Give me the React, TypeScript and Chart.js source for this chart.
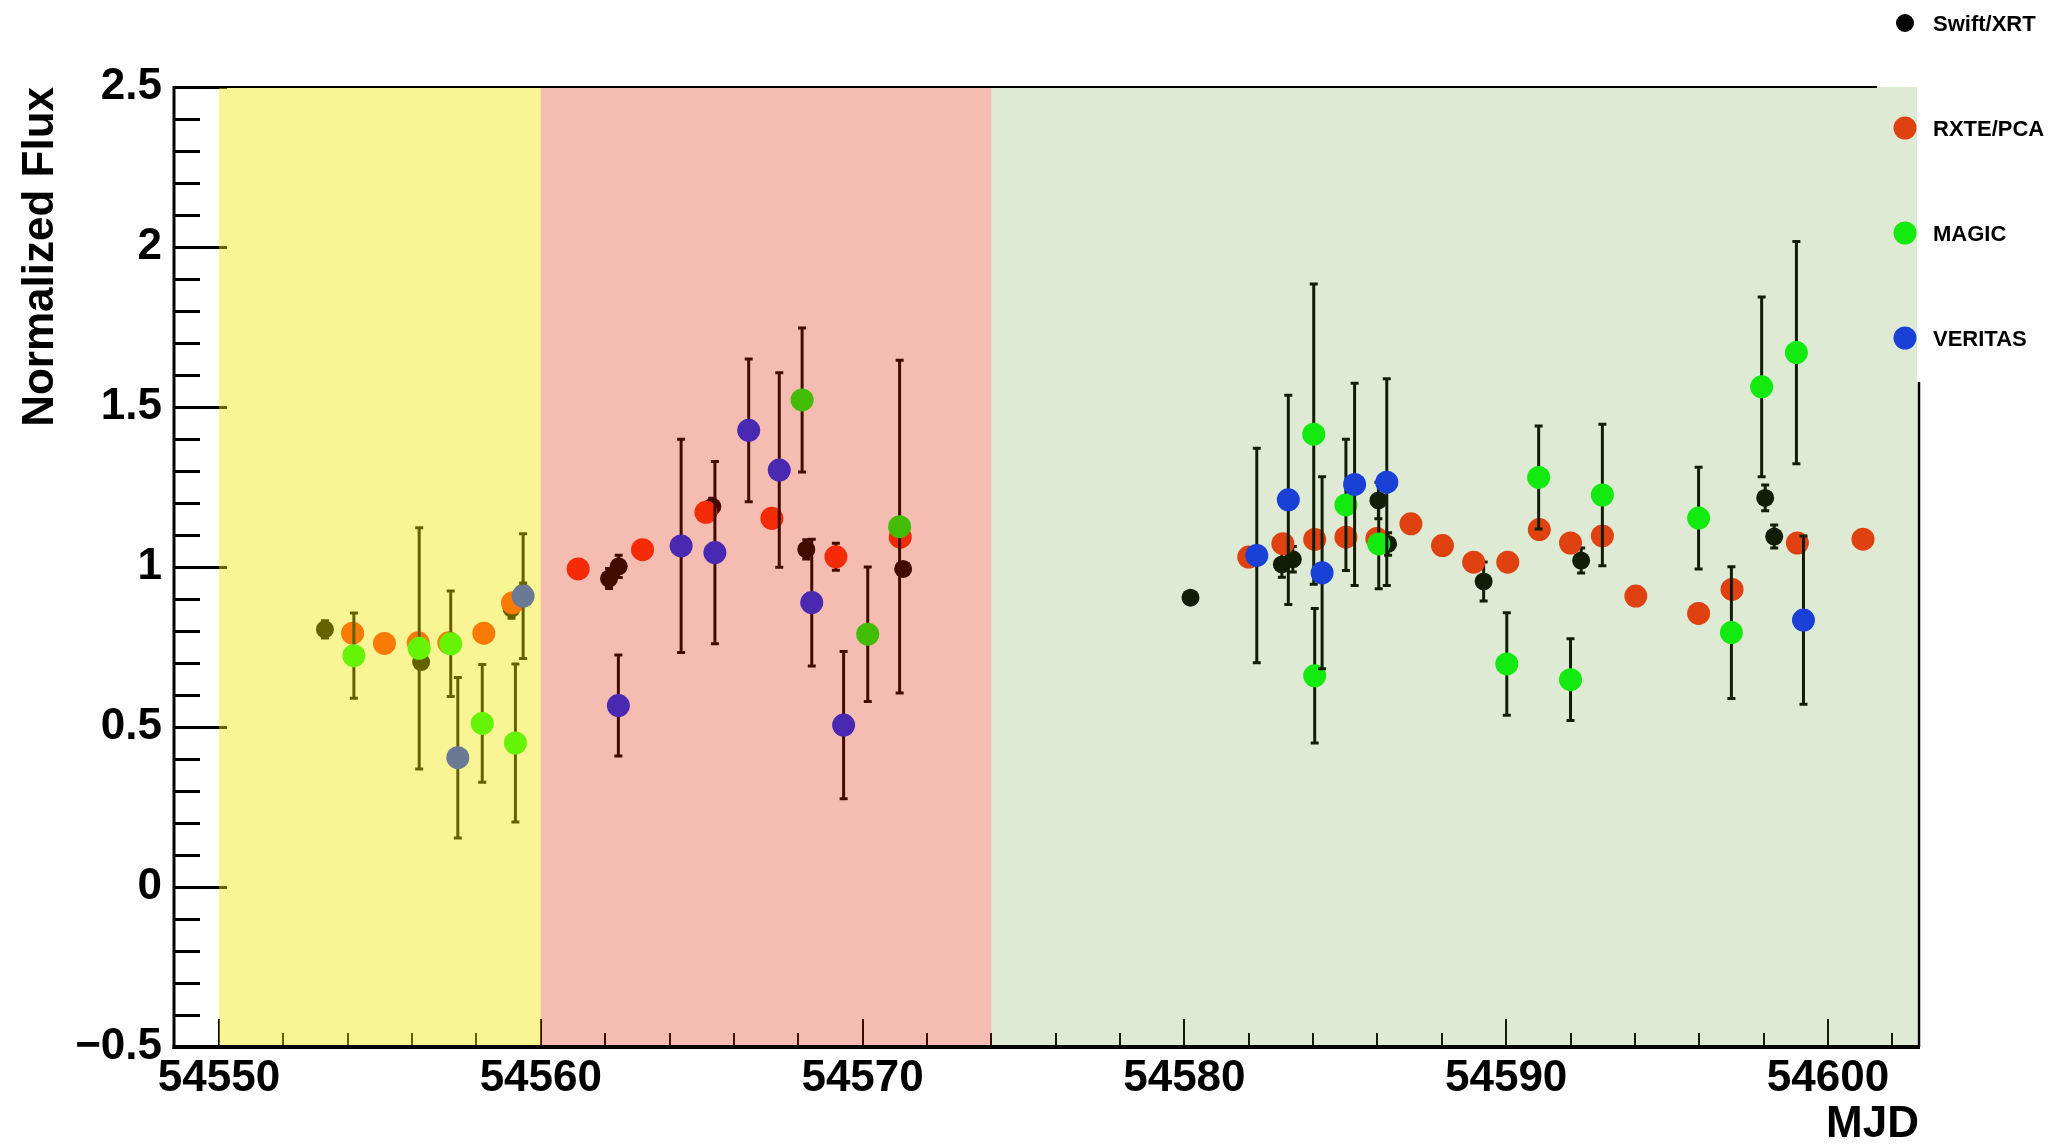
import React, { useEffect, useRef } from 'react';
import { Chart, registerables } from 'chart.js';

Chart.register(...registerables);

// ---------- data ----------
const seriesNames = ['Swift/XRT', 'RXTE/PCA', 'MAGIC', 'VERITAS'];

const swiftMjd = [54553.29, 54556.28, 54559.09, 54559.45, 54562.12, 54562.42, 54565.33, 54568.25, 54571.26, 54580.19, 54583.03, 54583.37, 54586.03, 54586.33, 54589.30, 54592.33, 54598.05, 54598.33];
const swiftFlux = [0.805, 0.703, 0.870, 0.920, 0.964, 1.002, 1.189, 1.055, 0.994, 0.904, 1.008, 1.024, 1.208, 1.072, 0.955, 1.020, 1.216, 1.095];
const swiftErr = [0.027, 0.020, 0.030, 0.030, 0.031, 0.035, 0.026, 0.030, 0.020, 0.015, 0.040, 0.040, 0.057, 0.035, 0.061, 0.039, 0.040, 0.036];

const rxteMjd = [54554.15, 54555.14, 54556.19, 54557.14, 54558.23, 54559.12, 54561.16, 54563.16, 54565.13, 54567.18, 54569.17, 54571.17, 54582.00, 54583.06, 54584.05, 54585.02, 54585.98, 54587.04, 54588.02, 54588.99, 54590.05, 54591.03, 54592.00, 54592.99, 54594.03, 54595.98, 54597.02, 54599.05, 54601.09];
const rxteFlux = [0.793, 0.761, 0.763, 0.763, 0.793, 0.888, 0.994, 1.054, 1.171, 1.152, 1.032, 1.093, 1.031, 1.073, 1.086, 1.093, 1.089, 1.135, 1.067, 1.015, 1.015, 1.117, 1.075, 1.097, 0.909, 0.855, 0.930, 1.075, 1.087];
const rxteErr = [0.02, 0.02, 0.02, 0.02, 0.02, 0.02, 0.02, 0.02, 0.02, 0.02, 0.042, 0.02, 0.02, 0.02, 0.02, 0.02, 0.02, 0.02, 0.02, 0.02, 0.02, 0.02, 0.02, 0.02, 0.02, 0.02, 0.02, 0.02, 0.02];

const magicMjd = [54554.19, 54556.22, 54557.20, 54558.18, 54559.21, 54568.12, 54570.16, 54571.15, 54584.02, 54584.05, 54585.02, 54586.04, 54590.02, 54591.01, 54592.00, 54592.99, 54595.98, 54597.00, 54597.94, 54599.02];
const magicFlux = [0.723, 0.746, 0.760, 0.511, 0.450, 1.522, 0.790, 1.126, 1.415, 0.660, 1.194, 1.072, 0.697, 1.280, 0.648, 1.225, 1.153, 0.795, 1.563, 1.670];
const magicErr = [0.133, 0.377, 0.165, 0.184, 0.247, 0.225, 0.210, 0.520, 0.469, 0.210, 0.205, 0.140, 0.160, 0.161, 0.128, 0.221, 0.159, 0.206, 0.281, 0.347];

const veritasMjd = [54557.42, 54559.45, 54562.41, 54564.36, 54565.41, 54566.46, 54567.41, 54568.42, 54569.41, 54582.25, 54583.23, 54584.28, 54585.29, 54586.29, 54599.24];
const veritasFlux = [0.404, 0.909, 0.567, 1.066, 1.045, 1.427, 1.303, 0.889, 0.506, 1.036, 1.210, 0.982, 1.258, 1.265, 0.834];
const veritasErr = [0.251, 0.195, 0.158, 0.333, 0.285, 0.223, 0.304, 0.198, 0.230, 0.335, 0.327, 0.300, 0.316, 0.323, 0.263];

// shaded observation periods (MJD)
const periodStart = [54550, 54560, 54574];
const periodEnd = [54560, 54574, 54602.77];

const xTickValues = [54550, 54560, 54570, 54580, 54590, 54600];
const xTickLabels = ['54550', '54560', '54570', '54580', '54590', '54600'];
const yTickValues = [-0.5, 0, 0.5, 1, 1.5, 2, 2.5];
const yTickLabels = ['\u22120.5', '0', '0.5', '1', '1.5', '2', '2.5'];

const xMin = 54548.6;
const xMax = 54602.83;
const yMin = -0.5;
const yMax = 2.5;

// ---------- styles ----------
const FONT = "'Liberation Sans', Arial, Helvetica, sans-serif";
const seriesColors = ['#000000', 'rgb(255,47,10)', 'rgb(0,255,10)', 'rgb(10,45,255)'];
const seriesRadius = [9, 11.5, 11.5, 11.5];
const periodFill = ['rgba(240,229,0,0.42)', 'rgba(222,32,0,0.30)', 'rgba(92,148,41,0.196)'];

const W = 2061;
const H = 1147;

const errorSets = [swiftErr, rxteErr, magicErr, veritasErr];

const rootPlugin = {
  id: 'rootStyle',
  beforeDatasetsDraw(chart: any) {
    const { ctx, chartArea: a, scales } = chart;
    const xs = scales.x;
    const ys = scales.y;
    ctx.save();
    ctx.strokeStyle = '#000';
    // y ticks (inward)
    ctx.lineWidth = 3;
    for (let k = 0; k <= 30; k++) {
      const v = yMin + k * 0.1;
      const py = Math.round(ys.getPixelForValue(v)) + 0.5;
      const major = k % 5 === 0;
      ctx.beginPath();
      ctx.moveTo(a.left, py);
      ctx.lineTo(a.left + (major ? 53 : 26), py);
      ctx.stroke();
    }
    // x ticks (inward)
    ctx.lineWidth = 2;
    for (let m = 54550; m <= xMax; m += 2) {
      const px = Math.round(xs.getPixelForValue(m));
      const major = (m - 54550) % 10 === 0;
      ctx.beginPath();
      ctx.moveTo(px, a.bottom);
      ctx.lineTo(px, a.bottom - (major ? 28 : 14));
      ctx.stroke();
    }
    ctx.restore();
  },
  beforeDatasetDraw(chart: any, args: any) {
    const { ctx, scales } = chart;
    const ds = chart.data.datasets[args.index];
    const errs = errorSets[args.index];
    ctx.save();
    ctx.strokeStyle = '#000';
    ctx.lineWidth = 3;
    ds.data.forEach((p: any, i: number) => {
      const e = errs[i];
      const px = scales.x.getPixelForValue(p.x);
      const y1 = scales.y.getPixelForValue(p.y + e);
      const y2 = scales.y.getPixelForValue(p.y - e);
      ctx.beginPath();
      ctx.moveTo(px, y1);
      ctx.lineTo(px, y2);
      ctx.moveTo(px - 4, y1);
      ctx.lineTo(px + 4, y1);
      ctx.moveTo(px - 4, y2);
      ctx.lineTo(px + 4, y2);
      ctx.stroke();
    });
    ctx.restore();
  },
  afterDatasetsDraw(chart: any) {
    const { ctx, chartArea: a, scales } = chart;
    const xs = scales.x;
    const legLeft = a.right - 42;
    const legBottom = 382;
    ctx.save();
    // legend box
    ctx.fillStyle = '#fff';
    ctx.fillRect(legLeft, 0, W - legLeft, legBottom);
    chart.data.datasets.forEach((ds: any, i: number) => {
      const cy = 23 + i * 105;
      ctx.fillStyle = ds.pointBackgroundColor;
      ctx.beginPath();
      ctx.arc(1905, cy, ds.pointRadius, 0, Math.PI * 2);
      ctx.fill();
      ctx.fillStyle = '#000';
      ctx.font = `bold 22px ${FONT}`;
      ctx.textAlign = 'left';
      ctx.textBaseline = 'middle';
      ctx.fillText(ds.label, 1933, cy + 2);
    });
    // shaded periods
    periodStart.forEach((s, i) => {
      const x1 = xs.getPixelForValue(s);
      const x2 = xs.getPixelForValue(periodEnd[i]);
      ctx.fillStyle = periodFill[i];
      ctx.fillRect(x1, a.top, x2 - x1, a.bottom - a.top);
    });
    // frame
    ctx.strokeStyle = '#000';
    ctx.lineWidth = 2;
    ctx.beginPath();
    ctx.moveTo(a.left, a.top);
    ctx.lineTo(legLeft, a.top);
    ctx.stroke();
    ctx.lineWidth = 2.5;
    ctx.beginPath();
    ctx.moveTo(a.right, legBottom);
    ctx.lineTo(a.right, a.bottom);
    ctx.stroke();
    ctx.lineWidth = 3;
    ctx.beginPath();
    ctx.moveTo(a.left, a.top - 1);
    ctx.lineTo(a.left, a.bottom + 2);
    ctx.stroke();
    ctx.lineWidth = 4;
    ctx.beginPath();
    ctx.moveTo(a.left - 1.5, a.bottom);
    ctx.lineTo(a.right + 1, a.bottom);
    ctx.stroke();
    ctx.restore();
  },
};

function makeSet(i: number, xs: number[], ys: number[]) {
  return {
    label: seriesNames[i],
    data: xs.map((x, k) => ({ x, y: ys[k] })),
    pointBackgroundColor: seriesColors[i],
    backgroundColor: seriesColors[i],
    pointBorderWidth: 0,
    pointBorderColor: 'rgba(0,0,0,0)',
    pointRadius: seriesRadius[i],
    showLine: false,
    order: 4 - i,
  };
}

export default function App() {
  const ref = useRef<HTMLCanvasElement | null>(null);
  useEffect(() => {
    if (!ref.current) return;
    const chart = new Chart(ref.current, {
      type: 'scatter',
      data: {
        datasets: [
          makeSet(0, swiftMjd, swiftFlux),
          makeSet(1, rxteMjd, rxteFlux),
          makeSet(2, magicMjd, magicFlux),
          makeSet(3, veritasMjd, veritasFlux),
        ],
      },
      options: {
        responsive: false,
        animation: false,
        events: [],
        devicePixelRatio: 1,
        layout: { padding: { left: 0, top: 87, right: 142, bottom: 0 } },
        plugins: { legend: { display: false }, tooltip: { enabled: false } },
        scales: {
          x: {
            type: 'linear',
            position: 'bottom',
            min: xMin,
            max: xMax,
            afterBuildTicks: (s: any) => {
              s.ticks = xTickValues.map((v) => ({ value: v }));
            },
            afterFit: (s: any) => {
              s.height = 100;
            },
            grid: { display: false, drawTicks: false },
            border: { display: false },
            ticks: {
              autoSkip: false,
              maxRotation: 0,
              minRotation: 0,
              padding: 5,
              color: '#000',
              font: { family: FONT, size: 44, weight: 'bold' },
              callback: (_v: any, i: number) => xTickLabels[i],
            },
            title: {
              display: true,
              text: 'MJD',
              align: 'end',
              color: '#000',
              font: { family: FONT, size: 44, weight: 'bold', lineHeight: 1 },
              padding: { top: 0, bottom: 0 },
            },
          },
          y: {
            type: 'linear',
            position: 'left',
            min: yMin,
            max: yMax,
            afterBuildTicks: (s: any) => {
              s.ticks = yTickValues.map((v) => ({ value: v }));
            },
            afterFit: (s: any) => {
              s.width = 174;
            },
            grid: { display: false, drawTicks: false },
            border: { display: false },
            ticks: {
              autoSkip: false,
              padding: 12,
              color: '#000',
              font: { family: FONT, size: 44, weight: 'bold' },
              callback: (_v: any, i: number) => yTickLabels[i],
            },
            title: {
              display: true,
              text: 'Normalized Flux',
              align: 'end',
              color: '#000',
              font: { family: FONT, size: 44, weight: 'bold', lineHeight: 1 },
              padding: { top: 19, bottom: 0 },
            },
          },
        },
      } as any,
      plugins: [rootPlugin as any],
    });
    return () => chart.destroy();
  }, []);
  return (
    <div style={{ position: 'absolute', left: 0, top: 0, width: W, height: H, background: '#fff' }}>
      <canvas ref={ref} width={W} height={H} style={{ display: 'block', width: W, height: H }} />
    </div>
  );
}
